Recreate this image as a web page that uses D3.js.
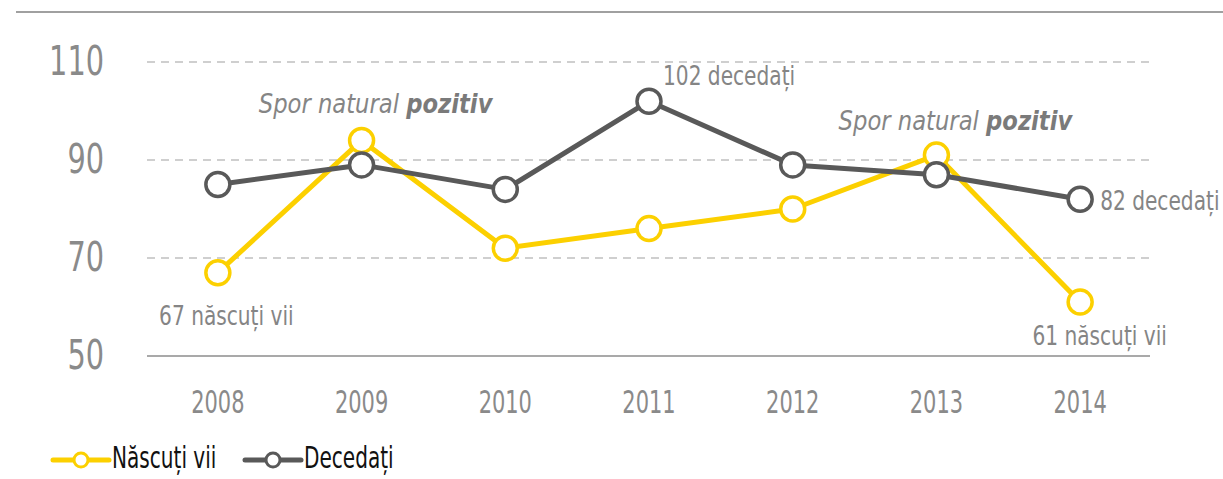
<!DOCTYPE html>
<html>
<head>
<meta charset="utf-8">
<script src="https://cdn.jsdelivr.net/npm/d3@7"></script>
<style>
  body { margin: 0; background: #fff; }
  svg text { font-family: "DejaVu Sans Condensed", "Liberation Sans Narrow", sans-serif; }
</style>
</head>
<body>
<div id="chart"></div>
<script>
  var years = ["2008", "2009", "2010", "2011", "2012", "2013", "2014"];
  var nascuti = [67, 94, 72, 76, 80, 91, 61];
  var decedati = [85, 89, 84, 102, 89, 87, 82];
  var yTicks = [50, 70, 90, 110];
  var seriesNames = ["Născuți vii", "Decedați"];

  var width = 1223, height = 479;
  var yellow = "#fcd000", grey = "#595959";

  var svg = d3.select("#chart").append("svg")
    .attr("width", width)
    .attr("height", height);

  var x = d3.scaleBand().domain(years).range([146, 1152]);
  var y = d3.scaleLinear().domain([50, 110]).range([356, 62]);
  var cx = function(d, i){ return x(years[i]) + x.bandwidth() / 2; };

  // narrow text: the original font is condensed, squeeze horizontally
  function ntext(g, xp, yp, txt, size, sx, anchor, color){
    return g.append("text")
      .attr("transform", "translate(" + xp + "," + yp + ") scale(" + sx + ",1)")
      .attr("text-anchor", anchor || "start")
      .style("font-size", size + "px")
      .style("fill", color || "#858585")
      .text(txt);
  }

  // top rule (title cut off above)
  svg.append("line")
    .attr("x1", 16).attr("x2", width)
    .attr("y1", 12).attr("y2", 12)
    .style("stroke", "#808080").style("stroke-width", 1.5);

  // gridlines
  svg.selectAll(".grid").data(yTicks).enter().append("line")
    .attr("x1", 147).attr("x2", 1150)
    .attr("y1", function(d){ return y(d); })
    .attr("y2", function(d){ return y(d); })
    .style("stroke", function(d){ return d == 50 ? "#8c8c8c" : "#c0c0c0"; })
    .style("stroke-width", 1.5)
    .style("stroke-dasharray", function(d){ return d == 50 ? null : "8,6"; });

  // y labels
  yTicks.forEach(function(d){
    ntext(svg, 104, y(d) + 13, d, 41, 0.78, "end", "#8a8a8a");
  });

  // x labels
  years.forEach(function(d, i){
    ntext(svg, cx(d, i), 413, d, 31.5, 0.74, "middle", "#8a8a8a");
  });

  var line = d3.line()
    .x(cx)
    .y(function(d){ return y(d); });

  function drawSeries(vals, color){
    svg.append("path").datum(vals)
      .attr("d", line)
      .style("fill", "none")
      .style("stroke", color)
      .style("stroke-width", 5)
      .style("stroke-linejoin", "round");
    svg.append("g").selectAll("circle").data(vals).enter().append("circle")
      .attr("cx", cx)
      .attr("cy", function(d){ return y(d); })
      .attr("r", 12)
      .style("fill", "#fff")
      .style("stroke", color)
      .style("stroke-width", 3.5);
  }
  drawSeries(nascuti, yellow);
  drawSeries(decedati, grey);

  // annotations
  ntext(svg, cx(0, 0) + 8.5, 325, nascuti[0] + " născuți vii", 27, 0.83, "middle");
  ntext(svg, cx(0, 6) + 19.5, 345, nascuti[6] + " născuți vii", 27, 0.83, "middle");
  ntext(svg, cx(0, 3) + 14, 85, decedati[3] + " decedați", 27, 0.83);
  ntext(svg, cx(0, 6) + 20, 210, decedati[6] + " decedați", 27, 0.83);

  function spor(xc, yp){
    var t = svg.append("text")
      .attr("transform", "translate(" + xc + "," + yp + ") scale(0.97,1)")
      .attr("text-anchor", "middle")
      .style("font-size", "26px")
      .style("font-style", "italic")
      .style("fill", "#858585");
    t.append("tspan").text("Spor natural ");
    t.append("tspan").style("font-weight", "bold").style("fill", "#7a7a7a").text("pozitiv");
  }
  spor(cx(0, 1) + 14, 113);
  spor(cx(0, 5) + 19, 130);

  // legend
  var leg = svg.append("g");
  var items = [{ x: 53, c: yellow }, { x: 245, c: grey }];
  items.forEach(function(it, i){
    leg.append("line")
      .attr("x1", it.x).attr("x2", it.x + 56)
      .attr("y1", 460).attr("y2", 460)
      .style("stroke", it.c).style("stroke-width", 5)
      .style("stroke-linecap", "round");
    leg.append("circle")
      .attr("cx", it.x + 28).attr("cy", 460).attr("r", 7)
      .style("fill", "#fff").style("stroke", it.c).style("stroke-width", 3);
    ntext(leg, it.x + 59, 468, seriesNames[i], 31, 0.72, "start", "#111");
  });
</script>
</body>
</html>
